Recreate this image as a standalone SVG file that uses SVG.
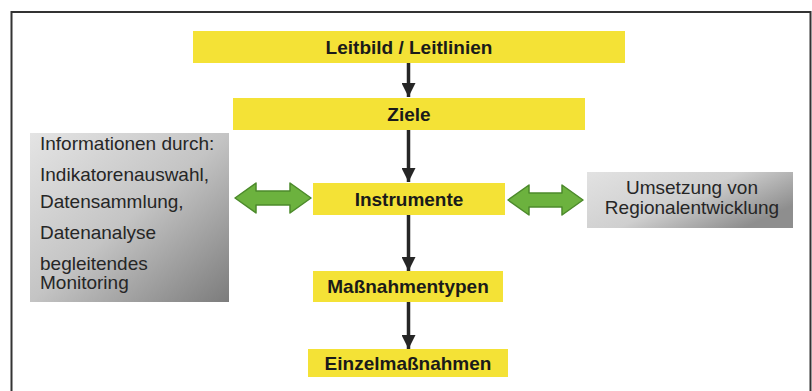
<svg xmlns="http://www.w3.org/2000/svg" width="812" height="391" viewBox="0 0 812 391">
<defs>
<style>
.box{fill:#F4E236;}
.lbl{font-family:"Liberation Sans",Arial,sans-serif;font-size:19px;font-weight:bold;fill:#1a1a1a;text-anchor:middle;}
.gtx{font-family:"Liberation Sans",Arial,sans-serif;font-size:19px;fill:#262626;}
.conn{stroke:#262626;stroke-width:3.5;fill:none;}
.dbl{fill:#6CB23E;stroke:#4C8A2B;stroke-width:1.5;stroke-linejoin:round;}
</style>
<linearGradient id="gL" x1="0" y1="0" x2="1" y2="1">
<stop offset="0" stop-color="#e4e4e4"/>
<stop offset="0.5" stop-color="#c4c4c4"/>
<stop offset="1" stop-color="#7c7c7c"/>
</linearGradient>
<linearGradient id="gR" x1="0" y1="0" x2="1" y2="0.6">
<stop offset="0" stop-color="#e2e2e2"/>
<stop offset="0.55" stop-color="#cfcfcf"/>
<stop offset="1" stop-color="#8e8e8e"/>
</linearGradient>
<marker id="ah" viewBox="0 0 10 10" refX="10" refY="5" markerWidth="4" markerHeight="4" markerUnits="strokeWidth" orient="auto">
<path d="M0,0 L10,5 L0,10 z" fill="#262626"/>
</marker>
</defs>
<rect width="812" height="391" fill="#ffffff"/>
<path d="M11.5,391 V12 H810.5 V391" fill="none" stroke="#333" stroke-width="2"/>

<g id="connectors">
<line class="conn" x1="408.5" y1="63" x2="408.5" y2="97" marker-end="url(#ah)"/>
<line class="conn" x1="408.5" y1="130" x2="408.5" y2="182" marker-end="url(#ah)"/>
<line class="conn" x1="408.5" y1="215" x2="408.5" y2="271" marker-end="url(#ah)"/>
<line class="conn" x1="408.5" y1="302" x2="408.5" y2="349" marker-end="url(#ah)"/>
<path class="dbl" d="M235,198 L256,183 L256,191 L290,191 L290,183 L311,198 L290,213 L290,205 L256,205 L256,213 z"/>
<path class="dbl" d="M508,200 L529,185 L529,193 L562,193 L562,185 L583,200 L562,215 L562,207 L529,207 L529,215 z"/>
</g>

<g id="leitbild">
<rect class="box" x="193" y="31" width="432" height="32"/>
<text class="lbl" x="409" y="54">Leitbild / Leitlinien</text>
</g>
<g id="ziele">
<rect class="box" x="233" y="98" width="352" height="32"/>
<text class="lbl" x="409" y="121">Ziele</text>
</g>
<g id="instrumente">
<rect class="box" x="313" y="183" width="192" height="32"/>
<text class="lbl" x="409" y="206">Instrumente</text>
</g>
<g id="massnahmentypen">
<rect class="box" x="313" y="271" width="190" height="31"/>
<text class="lbl" x="408" y="293">Maßnahmentypen</text>
</g>
<g id="einzelmassnahmen">
<rect class="box" x="308" y="349" width="200" height="28"/>
<text class="lbl" x="408" y="370">Einzelmaßnahmen</text>
</g>

<g id="informationen">
<rect x="30" y="133" width="199" height="169" fill="url(#gL)"/>
<text class="gtx" x="40" y="150">Informationen durch:</text>
<text class="gtx" x="40" y="181">Indikatorenauswahl,</text>
<text class="gtx" x="40" y="208">Datensammlung,</text>
<text class="gtx" x="40" y="239">Datenanalyse</text>
<text class="gtx" x="40" y="270">begleitendes</text>
<text class="gtx" x="40" y="289">Monitoring</text>
</g>

<g id="umsetzung">
<rect x="587" y="172" width="206" height="56" fill="url(#gR)"/>
<text class="gtx" x="692" y="194" text-anchor="middle">Umsetzung von</text>
<text class="gtx" x="692" y="214" text-anchor="middle">Regionalentwicklung</text>
</g>
</svg>
